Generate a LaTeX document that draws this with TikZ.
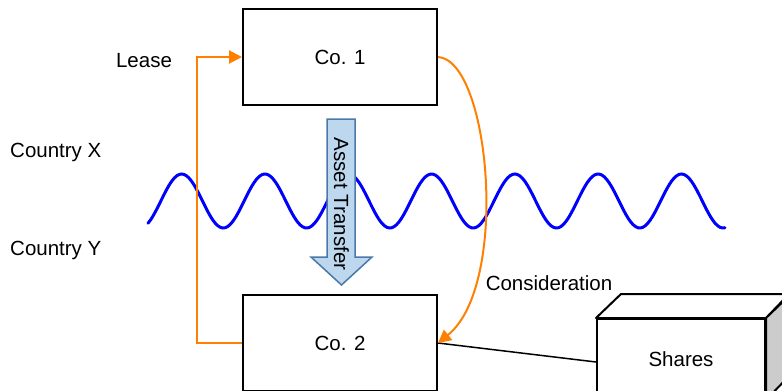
\documentclass[tikz,border=0pt]{standalone}
\usepackage{fontspec}
\setmainfont{Liberation Sans}
\usetikzlibrary{arrows.meta}
\definecolor{orgline}{HTML}{FF8000}
\definecolor{wave}{HTML}{0000FF}
\definecolor{arrfill}{HTML}{BDD7EE}
\definecolor{arrdraw}{HTML}{4A78A8}
\definecolor{sidegray}{HTML}{CCCCCC}
\tikzset{
  lbl/.style={font=\fontsize{20.5}{24}\selectfont, inner sep=0pt},
  cobox/.style={draw=black, line width=2pt, fill=white, minimum width=194pt, minimum height=96pt, inner sep=0pt, font=\fontsize{20.5}{24}\selectfont},
  orgarrow/.style={draw=orgline, line width=2pt, -{Triangle[length=13pt,width=13pt]}},
}
\begin{document}
\begin{tikzpicture}[x=1pt,y=-1pt]
\clip (0,0) rectangle (782,391);
\fill[white] (0,0) rectangle (782,391);
% wave
\draw[wave, line width=3pt, line cap=round, domain=148:725, samples=240, smooth] plot (\x, {201+27*cos(4.3217*(\x-140))});
% asset transfer arrow
\draw[arrdraw, fill=arrfill, line width=1.5pt, line join=miter]
  (327,119) -- (355,119) -- (355,257) -- (372,257) -- (341.5,285) -- (311,257) -- (327,257) -- cycle;
\node[lbl, rotate=-90] (asset) at (341.5,204) {Asset Transfer};
% boxes
\node[cobox] (co1) at (340,57) {Co. 1};
\node[cobox] (co2) at (340,343) {Co. 2};
% shares cube
\node[draw=black, line width=2pt, fill=white, minimum width=168pt, minimum height=80pt, inner sep=0pt, font=\fontsize{20.5}{24}\selectfont] (shares) at (681,359) {Shares};
\draw[black, line width=2pt, fill=white, line join=round] (shares.north west) -- ++(25,-24) -- ++(168,0) -- (shares.north east) -- cycle;
\draw[black, line width=2pt, fill=sidegray, line join=round] (shares.north east) -- ++(25,-24) -- ++(0,80) -- (shares.south east) -- cycle;
% labels
\node[lbl, anchor=west] (cx) at (10,152.5) {Country X};
\node[lbl, anchor=west] (cy) at (10,250) {Country Y};
\node[lbl] (lease) at (144,61) {Lease};
\node[lbl] (consid) at (549,283) {Consideration};
% connectors
\draw[black, line width=1.5pt] (co2.east) -- ([yshift=-3pt]shares.west);
\draw[orgarrow] (co2.west) -- ++(-45,0) |- (co1.west);
\draw[orgarrow] (co1.east) .. controls (490,60) and (510,285) .. (co2.east);
\end{tikzpicture}
\end{document}
